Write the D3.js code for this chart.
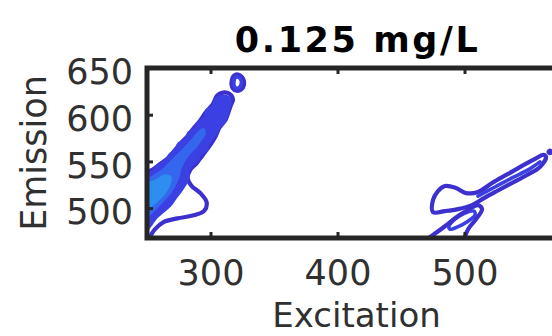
<!DOCTYPE html>
<html>
<head>
<meta charset="utf-8">
<script src="https://cdn.jsdelivr.net/npm/d3@7"></script>
<style>
  html, body { margin: 0; padding: 0; background: #fff; }
  svg { display: block; }
  text { font-family: "DejaVu Sans", Verdana, sans-serif; }
</style>
</head>
<body>
<svg id="chart" width="552" height="336"></svg>
<script>
// ---- axis settings -------------------------------------------------------
const excitationRange = [250, 580];
const emissionRange = [468, 650];
const excitationTicks = [300, 400, 500];
const emissionTicks = [500, 550, 600, 650];
const titleText = "0.125 mg/L";

// ---- contour lines, [excitation, emission] pairs ---------------------------
// diagonal scatter band, outer level (open, runs out of the left edge)
const bandOuter = [
  [248,539],[254,541],[260,547],[267,554],[272,562],[277,570],[282,577],[287,586],
  [292,594],[296,602],[302,611.6],[305.1,620.4],[309.8,623.7],[314.6,622.6],[317.7,616.1],
  [316,610],[314,602],[312,595],[307,586],[304,577],[300,568],[294,557],[289,548],
  [284,541],[282,532],[285,524],[292,516],[297,506],[295,497],[286,492],[274,489],
  [263,485],[256,477],[252,469],[248,463]
];
// second level inside the band
const bandLevel2 = [
  [248.4,535.5],[254.7,538.7],[258.7,545.2],[264.2,549.5],[268.1,557.0],[272.8,562.4],
  [275.2,568.8],[280.7,573.1],[283.1,580.6],[287.8,583.9],[290.9,591.4],[295.7,596.8],
  [297.2,604.3],[302.0,607.5],[304.3,616.1],[309.1,619.4],[313.8,618.3],[315.4,612.9],
  [313.8,605.4],[312.2,598.9],[310.6,592.5],[306.7,587.1],[304.3,580.6],[301.2,575.3],
  [298.0,568.8],[296.5,562.4],[291.7,558.1],[289.4,551.6],[285.4,547.3],[282.3,540.9],
  [281.5,530.1],[276.8,519.4],[272.0,510.7],[268.1,503.2],[262.6,496.8],[257.1,490.3],
  [253.1,482.8],[248.4,474.2]
];
// third level
const bandLevel3 = [
  [248.4,530.1],[253.9,532.3],[258.7,536.6],[263.4,540.9],[268.1,547.3],[272.8,553.8],
  [277.6,560.2],[282.3,566.7],[287.0,574.2],[290.9,580.6],[294.1,583.9],[294.9,579.6],
  [291.7,573.1],[287.8,565.6],[283.1,559.1],[279.1,551.6],[276.0,543.0],[274.4,534.4],
  [271.3,524.7],[267.3,516.1],[262.6,508.6],[257.9,502.1],[253.1,495.7],[248.4,489.2]
];
// fourth level near the lower-left corner
const bandLevel4 = [
  [248.4,524.7],[253.1,526.9],[258.7,530.1],[264.2,534.4],[268.1,532.3],[266.5,523.6],
  [262.6,515.0],[257.9,508.6],[253.1,503.2],[248.4,497.8]
];
// small isolated peak at the top of the band: outer and inner ring
const bandTopRing = [
  [321.7,643.0],[325.6,638.7],[326.4,632.3],[324.0,626.9],[320.1,625.8],[316.9,630.1],
  [316.9,637.6],[318.5,641.9]
];
const bandTopRingInner = [
  [321.4,640.5],[323.8,637.8],[324.2,632.8],[322.6,629.2],[320.3,628.4],[318.6,631.0],
  [318.6,636.6],[319.6,639.8]
];
// second-order band on the right: outer loop
const rightOuter = [
  [475.2,495.7],[475.2,508.6],[479.1,518.3],[484.6,523.7],[493.3,521.5],[501.2,516.1],
  [510.6,517.2],[521.7,526.9],[534.3,536.6],[545.3,545.2],[555.5,552.7],[561.8,557.0],
  [564.2,554.8],[559.4,544.1],[549.2,535.5],[537.4,526.9],[525.6,518.3],[515.4,510.7],
  [505.9,503.2],[494.9,498.9],[484.6,496.8]
];
// middle line running along the right band
const rightMiddle = [
  [510.6,512.9],[524.0,522.6],[537.4,532.3],[550.0,540.9],[559.4,549.5]
];
// small oval at the lower end of the right band
const rightOval = [
  [487.8,480.6],[492.5,488.2],[500.4,494.6],[507.5,496.8],[508.3,492.5],[502.8,486.0],
  [494.1,479.6],[488.6,477.4]
];
// lower contour leaving through the bottom edge
const rightLower = [
  [467.3,463.4],[476.0,472.0],[484.6,480.6],[492.5,489.2],[501.2,496.8],[510.6,503.2],
  [513.8,498.9],[509.1,488.2],[502.8,477.4],[498.8,463.4]
];
// isolated dot at the tip of the right band
const rightTipDot = [
  [567.3,561.6],[568.4,560.2],[567.3,558.8],[566.2,560.2]
];

// level colours, low -> high
const levelColors = ["#3c30cf", "#3b40e2", "#3566ee", "#2e8ef0"];

const contours = [
  { pts: bandOuter,        level: 0, closed: false, fill: false },
  { pts: bandLevel2,       level: 1, closed: false, fill: true },
  { pts: bandLevel3,       level: 2, closed: false, fill: true },
  { pts: bandLevel4,       level: 3, closed: false, fill: true },
  { pts: bandTopRing,      level: 0, closed: true,  fill: false },
  { pts: bandTopRingInner, level: 1, closed: true,  fill: false },
  { pts: rightOuter,       level: 0, closed: true,  fill: false },
  { pts: rightMiddle,      level: 1, closed: false, fill: false },
  { pts: rightOval,        level: 1, closed: true,  fill: false },
  { pts: rightLower,       level: 0, closed: false, fill: false },
  { pts: rightTipDot,      level: 0, closed: true,  fill: false }
];

// ---- layout ---------------------------------------------------------------
const svg = d3.select("#chart");
const plotLeft = 147, plotTop = 68, plotBottom = 238;
const plotRight = plotLeft + (excitationRange[1] - excitationRange[0]) * 1.27;
const frameColor = "#262626";

const x = d3.scaleLinear().domain(excitationRange).range([plotLeft, plotRight]);
const y = d3.scaleLinear().domain(emissionRange).range([plotBottom, plotTop]);

svg.append("clipPath").attr("id", "plotClip")
  .append("rect").attr("x", plotLeft).attr("y", plotTop)
  .attr("width", plotRight - plotLeft).attr("height", plotBottom - plotTop);

const plot = svg.append("g").attr("clip-path", "url(#plotClip)");

const lineOpen = d3.line().x(d => x(d[0])).y(d => y(d[1])).curve(d3.curveCatmullRom.alpha(0.5));
const lineClosed = d3.line().x(d => x(d[0])).y(d => y(d[1])).curve(d3.curveCatmullRomClosed.alpha(0.5));

plot.selectAll("path.contour")
  .data(contours)
  .join("path")
  .attr("class", "contour")
  .attr("d", c => (c.closed ? lineClosed : lineOpen)(c.pts))
  .attr("fill", c => c.fill ? levelColors[c.level] : "none")
  .attr("stroke", c => levelColors[c.level])
  .attr("stroke-width", c => c.level === 0 ? 4.2 : 3.6)
  .attr("stroke-linejoin", "round")
  .attr("stroke-linecap", "round");

// ---- axes -----------------------------------------------------------------
function styleAxis(g) {
  g.select(".domain").remove();
  g.selectAll(".tick line").attr("stroke", frameColor).attr("stroke-width", 3);
  g.selectAll(".tick text")
    .attr("fill", "#303030")
    .style("font-size", "35px")
    .style("font-family", "'DejaVu Sans', Verdana, sans-serif");
}

svg.append("g")
  .attr("transform", `translate(0,${plotBottom})`)
  .call(d3.axisBottom(x).tickValues(excitationTicks).tickSize(-6).tickPadding(22))
  .call(styleAxis);

svg.append("g")
  .attr("transform", `translate(0,${plotTop})`)
  .call(d3.axisTop(x).tickValues(excitationTicks).tickSize(-6).tickFormat(""))
  .call(styleAxis);

svg.append("g")
  .attr("transform", `translate(${plotLeft},0)`)
  .call(d3.axisLeft(y).tickValues(emissionTicks).tickSize(-6).tickPadding(14))
  .call(styleAxis)
  .call(g => g.selectAll(".tick text").attr("dy", "0.45em"));

// frame
svg.append("rect")
  .attr("x", plotLeft).attr("y", plotTop)
  .attr("width", plotRight - plotLeft).attr("height", plotBottom - plotTop)
  .attr("fill", "none")
  .attr("stroke", frameColor)
  .attr("stroke-width", 5);

// ---- titles ---------------------------------------------------------------
const midX = (plotLeft + plotRight) / 2;
svg.append("text")
  .attr("x", midX + 1).attr("y", 52)
  .attr("text-anchor", "middle")
  .style("font-size", "35px").style("font-weight", "bold")
  .style("letter-spacing", "2.6px")
  .attr("fill", "#000")
  .text(titleText);

svg.append("text")
  .attr("x", midX).attr("y", 327)
  .attr("text-anchor", "middle")
  .style("font-size", "34px")
  .attr("fill", "#303030")
  .text("Excitation");

svg.append("text")
  .attr("transform", `translate(46,${(plotTop + plotBottom) / 2}) rotate(-90)`)
  .attr("text-anchor", "middle")
  .style("font-size", "35px")
  .attr("fill", "#303030")
  .text("Emission");
</script>
</body>
</html>
